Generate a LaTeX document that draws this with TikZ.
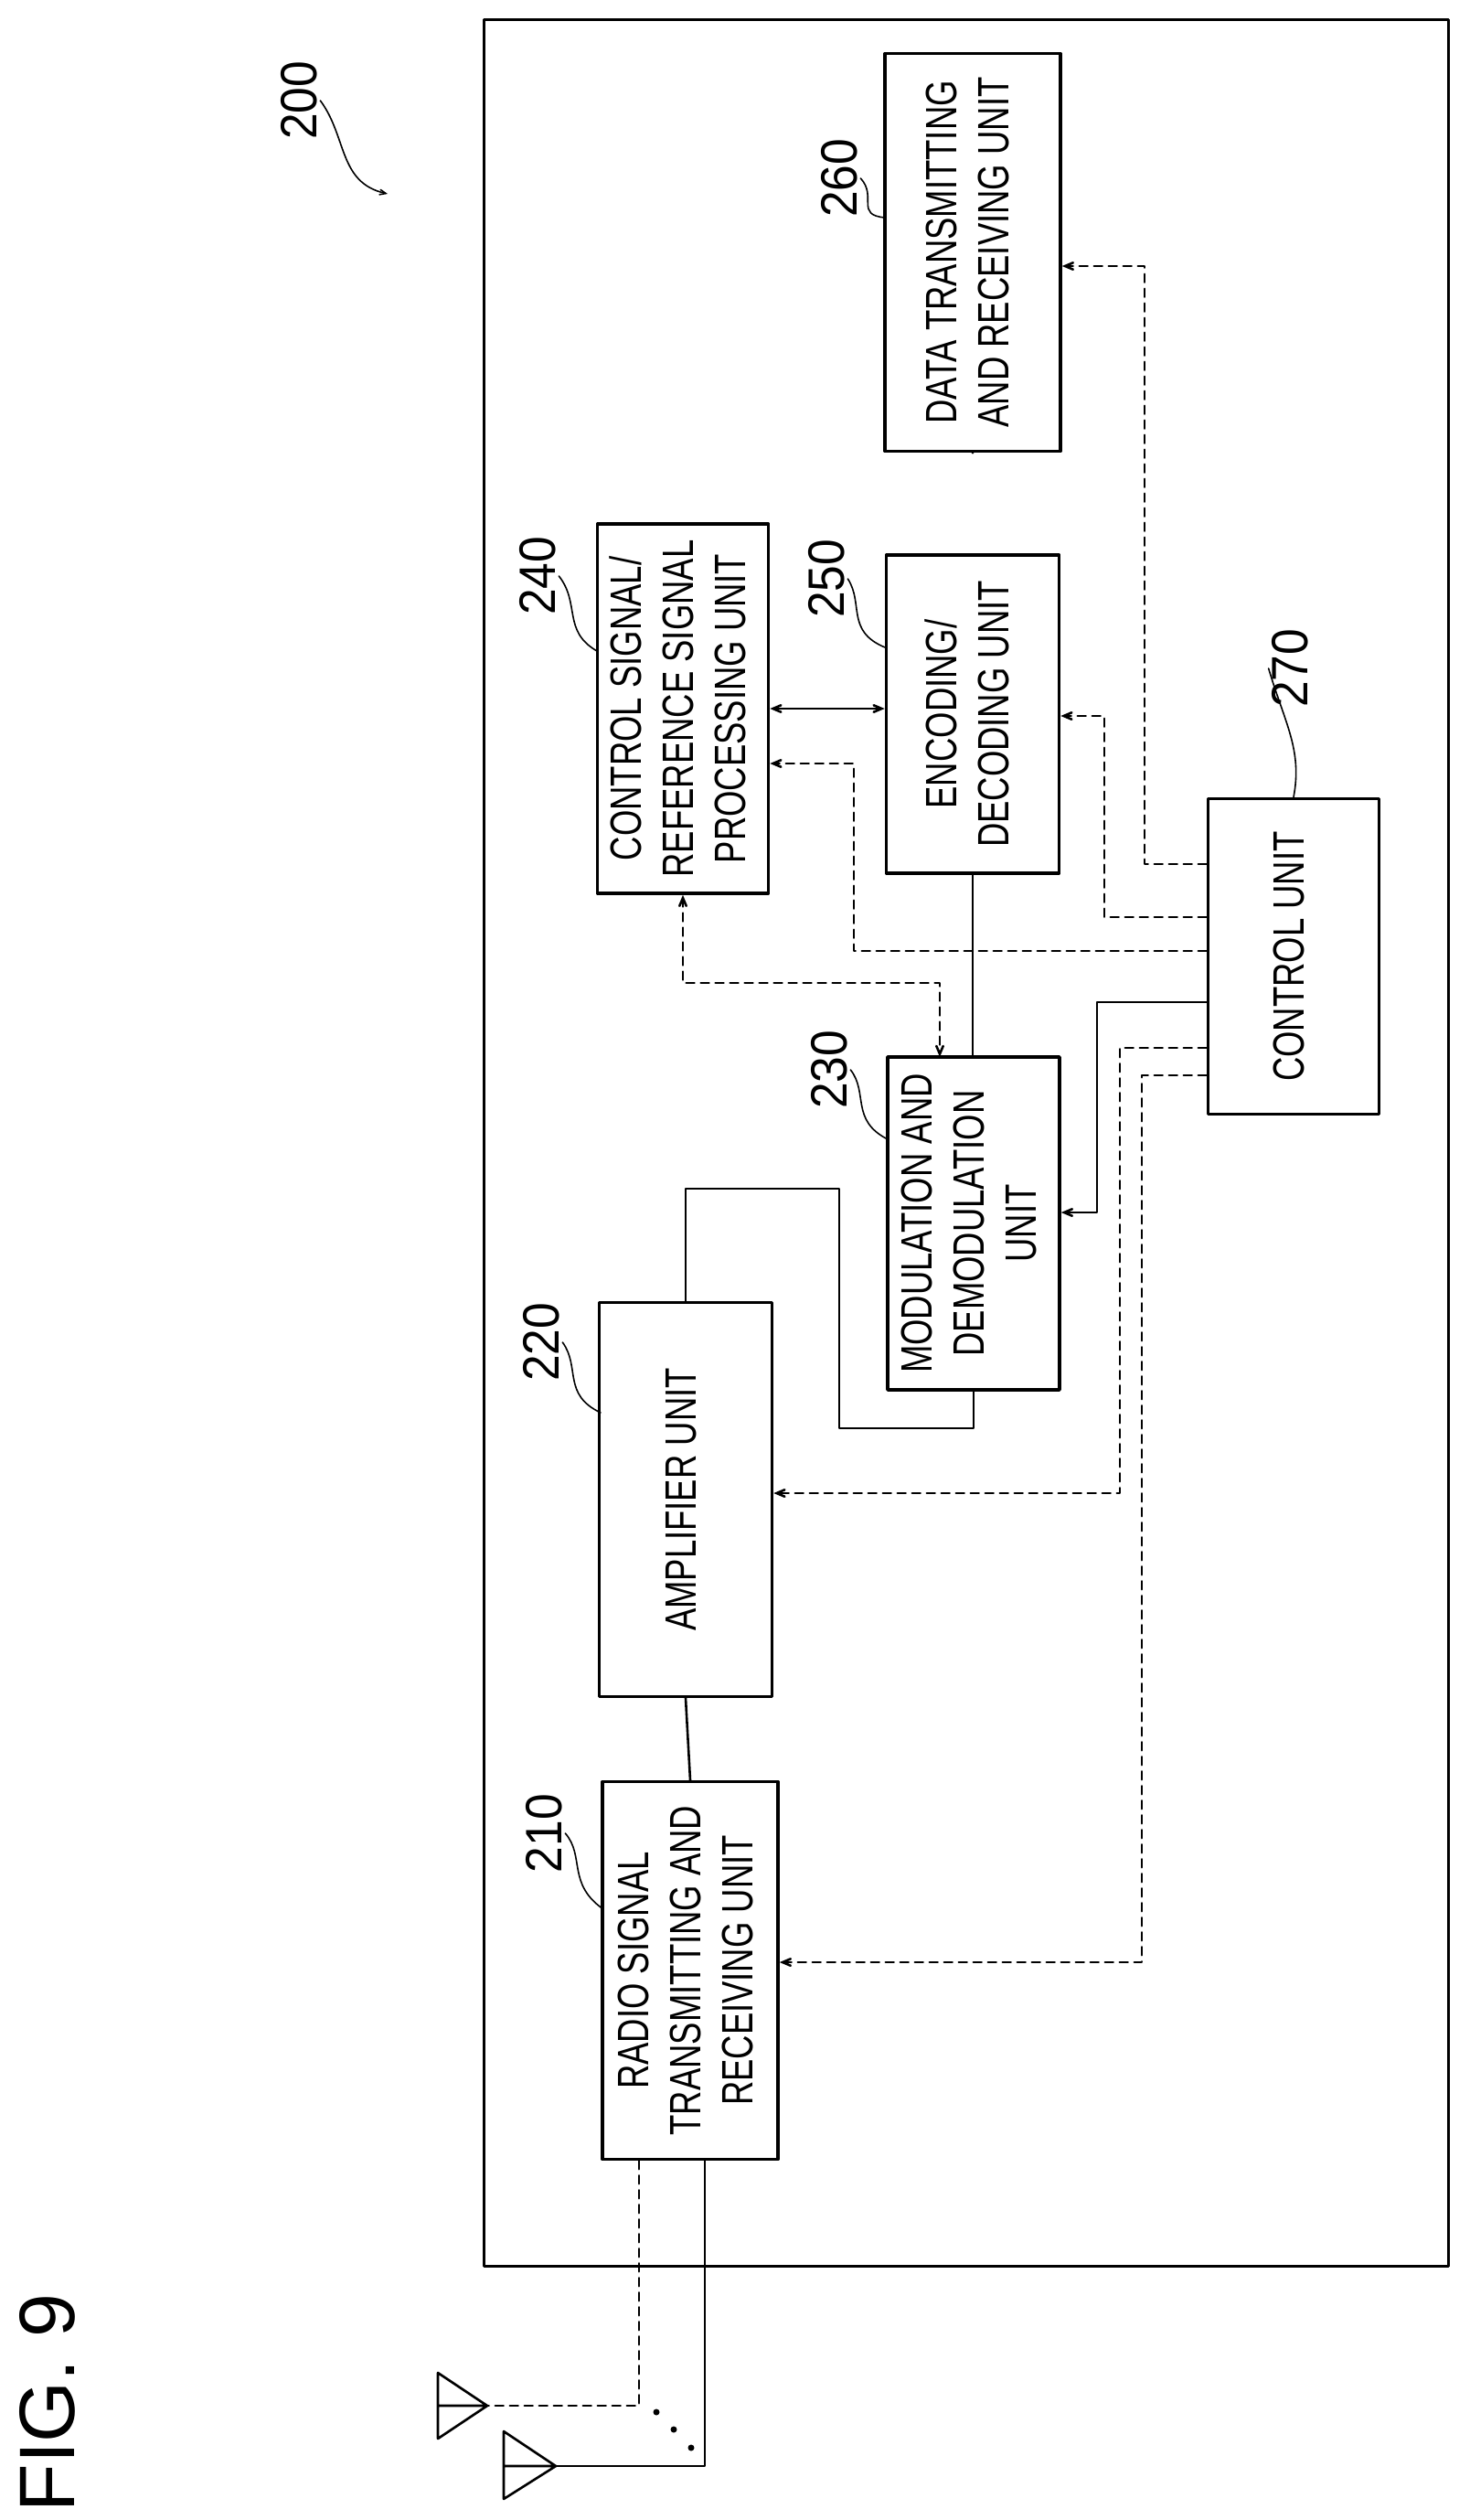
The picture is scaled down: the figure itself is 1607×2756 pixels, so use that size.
\documentclass[tikz,border=0pt]{standalone}
\usepackage{fontspec}
\setmainfont[FakeStretch=0.76]{Liberation Sans}
\newfontfamily\numfont[FakeStretch=0.92]{Liberation Sans}
\newfontfamily\figfont{Liberation Sans}
\usetikzlibrary{arrows}

\tikzset{
  unit/.style={draw, line width=3.5pt, fill=white, inner sep=0pt, align=center,
    font=\fontsize{48}{57}\selectfont},
  wire/.style={line width=2.6pt},
  ctl/.style={line width=2.6pt, dash pattern=on 9pt off 7pt},
  refnum/.style={font=\numfont\fontsize{56}{56}\selectfont, rotate=90},
  lead/.style={line width=1.6pt}
}
\newcommand{\vtext}[1]{\rotatebox{90}{\begin{tabular}{c}#1\end{tabular}}}

\begin{document}
\begin{tikzpicture}[line cap=round,line join=round,>=angle 45,x=1pt,y=-1pt]
\useasboundingbox (0,0) rectangle (1607,2756);
%\draw [help lines, step=100] (0,0) grid (1607,2756);
\node [draw, line width=3.5pt, minimum width=1055pt, minimum height=2457pt] (dev) at (1057,1250) {};

\node [unit, minimum width=192pt, minimum height=413pt] (radio) at (755,2155) {\vtext{RADIO SIGNAL\\TRANSMITTING AND\\RECEIVING UNIT}};
\node [unit, minimum width=189pt, minimum height=431pt] (amp) at (750,1640) {\vtext{AMPLIFIER UNIT}};
\node [unit, minimum width=188pt, minimum height=364pt] (modem) at (1065,1338) {\vtext{MODULATION AND\\DEMODULATION\\UNIT}};
\node [unit, minimum width=187pt, minimum height=404pt] (csig) at (747,775) {\vtext{CONTROL SIGNAL/\\REFERENCE SIGNAL\\PROCESSING UNIT}};
\node [unit, minimum width=189pt, minimum height=348pt] (codec) at (1064,781) {\vtext{ENCODING/\\DECODING UNIT}};
\node [unit, minimum width=192pt, minimum height=435pt] (data) at (1064,276) {\vtext{DATA TRANSMITTING\\AND RECEIVING UNIT}};
\node [unit, minimum width=187pt, minimum height=345pt] (ctrl) at (1415,1046) {\vtext{CONTROL UNIT}};

% reference numerals
\node [refnum] (n200) at (327,110) {200};
\node [refnum] (n210) at (595,2005) {210};
\node [refnum] (n220) at (592,1468) {220};
\node [refnum] (n230) at (907,1170) {230};
\node [refnum] (n240) at (588,630) {240};
\node [refnum] (n250) at (904,633) {250};
\node [refnum] (n260) at (918,195) {260};
\node [refnum] (n270) at (1411,731) {270};
\node [font=\figfont\fontsize{86}{86}\selectfont, rotate=90] (fig) at (52,2628) {FIG. 9};

\draw [lead,->] (n200.south) .. controls (380,150) and (370,200) .. (424,212);
\draw [lead] (n210.south) .. controls (640,2030) and (620,2060) .. (660,2088);
\draw [lead] (n220.south) .. controls (635,1495) and (615,1525) .. (657,1545);
\draw [lead] (n230.south) .. controls (950,1195) and (930,1225) .. (971,1246);
\draw [lead] (n240.south) .. controls (635,660) and (615,690) .. (653,712);
\draw [lead] (n250.south) .. controls (945,660) and (925,690) .. (968,708);
\draw [lead] (n260.south) .. controls (960,215) and (935,235) .. (968,238);
\draw [lead] (n270.north) .. controls (1405,790) and (1425,820) .. (ctrl.north);

% signal path
\draw [wire] (data.south) -- (codec.north |- data.south);
\draw [wire] (codec.south) -- (codec.south |- modem.north);
\draw [wire,<->] (csig.east) -- (codec.west |- csig.east);
\draw [ctl,<->] (csig.south) |- (1028,1075) -- (1028,1156);
\draw [wire] (amp.north) -- (750,1300) -| (918,1562) -| (modem.south);
\draw [wire] (amp.south) -- (radio.north);

% control lines
\draw [ctl,->] (ctrl.west |- 0,945) -| (1252,291) -- (data.east |- 0,291);
\draw [ctl,->] (ctrl.west |- 0,1003) -| (1208,783) -- (codec.east |- 0,783);
\draw [ctl,->] (ctrl.west |- 0,1040) -| (934,835) -- (csig.east |- 0,835);
\draw [wire,->] (ctrl.west |- 0,1096) -| (1200,1326) -- (modem.east |- 0,1326);
\draw [ctl,->] (ctrl.west |- 0,1146) -| (1225,1633) -- (amp.east |- 0,1633);
\draw [ctl,->] (ctrl.west |- 0,1176) -| (1249,2146) -- (radio.east |- 0,2146);

% antennas
\coordinate (ant1) at (533,2631);
\coordinate (ant2) at (608,2697);
\draw [wire] (479,2595) -- (479,2667) -- (ant1) -- cycle (479,2631) -- (ant1);
\draw [wire] (551,2659) -- (551,2733) -- (ant2) -- cycle (551,2697) -- (ant2);
\draw [ctl] (radio.south -| 699,0) -- (699,2631) -- (ant1);
\draw [wire] (radio.south -| 771,0) -- (771,2697) -- (ant2);
\foreach \p in {(718,2638),(737,2657),(756,2677)}
  \fill \p circle (3.5pt);
\end{tikzpicture}
\end{document}
